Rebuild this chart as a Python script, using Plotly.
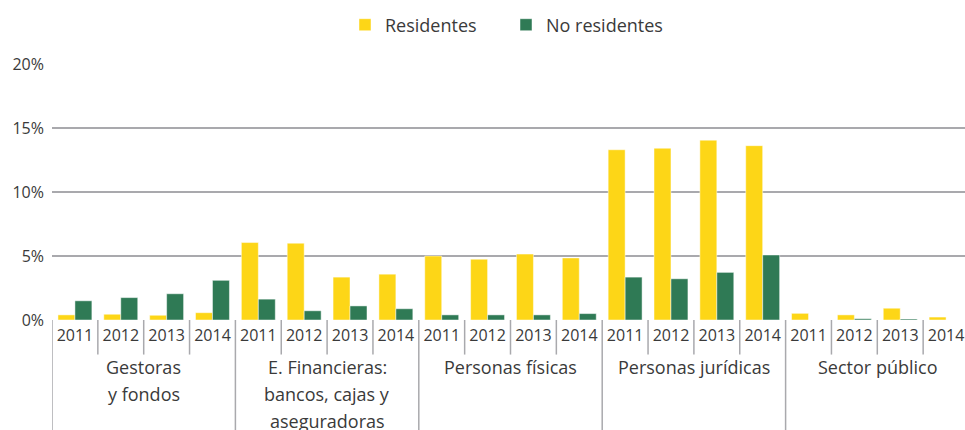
import plotly.graph_objects as go

groups = [["Gestoras", "y fondos"],
          ["E. Financieras:", "bancos, cajas y", "aseguradoras"],
          ["Personas físicas"], ["Personas jurídicas"], ["Sector público"]]
years = ["2011", "2012", "2013", "2014"]

residentes = [0.40, 0.45, 0.37, 0.57,
              6.05, 6.00, 3.35, 3.58,
              5.00, 4.75, 5.15, 4.85,
              13.30, 13.42, 14.05, 13.62,
              0.52, 0.40, 0.92, 0.23]
no_residentes = [1.50, 1.75, 2.05, 3.10,
                 1.63, 0.72, 1.10, 0.88,
                 0.40, 0.40, 0.40, 0.50,
                 3.35, 3.22, 3.72, 5.08,
                 0.00, 0.10, 0.08, 0.00]

y_ticks = [0, 5, 10, 15, 20]
y_ticktext = ["0%", "5%", "10%", "15%", "20%"]

n_years = len(years)
n = len(groups) * n_years
xs = list(range(n))
year_labels = [years[i % n_years] for i in xs]

FONT = "Open Sans"
TXT = "#3a3a3a"
GRID = "#a9a9ad"
W = 969

fig = go.Figure()
fig.add_trace(go.Bar(x=xs, y=residentes, name="Residentes",
                     marker=dict(color="#FDD617", line=dict(color="rgba(255,255,255,0.6)", width=0.8))))
fig.add_trace(go.Bar(x=xs, y=no_residentes, name="No residentes",
                     marker=dict(color="#2F7A55", line=dict(color="rgba(255,255,255,0.6)", width=0.8))))

shapes = []
for i in range(n + 1):
    is_group = (i % n_years == 0)
    shapes.append(dict(type="line", xref="x", yref="paper",
                       x0=i - 0.5, x1=i - 0.5, y0=0,
                       y1=-1.0 if is_group else -0.135,
                       line=dict(color=GRID, width=1.5), layer="below"))

annotations = []
for g, lines in enumerate(groups):
    cx = g * n_years + (n_years - 1) / 2
    for k, line in enumerate(lines):
        annotations.append(dict(x=cx, y=-0.184, xref="x", yref="paper",
                                text=line, showarrow=False, yanchor="middle",
                                yshift=-27 * k,
                                font=dict(family=FONT, size=18, color=TXT),
                                align="center"))

fig.update_layout(
    width=W, height=430,
    margin=dict(l=52, r=0, t=64, b=110, autoexpand=False),
    paper_bgcolor="white", plot_bgcolor="white",
    barmode="group", bargap=0.26, bargroupgap=0,
    font=dict(family=FONT, size=15, color=TXT),
    legend=dict(orientation="h", x=506 / W, xanchor="center", y=1 - 25 / 430, yanchor="middle",
                yref="container", xref="container",
                font=dict(family=FONT, size=18, color=TXT), itemwidth=30,
                entrywidth=116, entrywidthmode="pixels",
                traceorder="normal"),
    xaxis=dict(range=[-0.5, n - 0.5], tickmode="array", tickvals=xs, ticktext=year_labels,
               showgrid=False, zeroline=False, showline=False, ticks="", automargin=False,
               tickfont=dict(family=FONT, size=16, color=TXT), ticklabelstandoff=4,
               fixedrange=True),
    yaxis=dict(range=[0, 20], tickmode="array", tickvals=y_ticks, ticktext=y_ticktext,
               showgrid=True, gridcolor=GRID, gridwidth=1.5, zeroline=False, automargin=False,
               showline=False, ticks="", ticklabelstandoff=7,
               tickfont=dict(family=FONT, size=16, color=TXT), fixedrange=True),
    shapes=shapes, annotations=annotations,
)

fig.write_html("out.html", config={"displayModeBar": False},
               post_script="document.body.style.margin='0';document.body.style.overflow='hidden';")
